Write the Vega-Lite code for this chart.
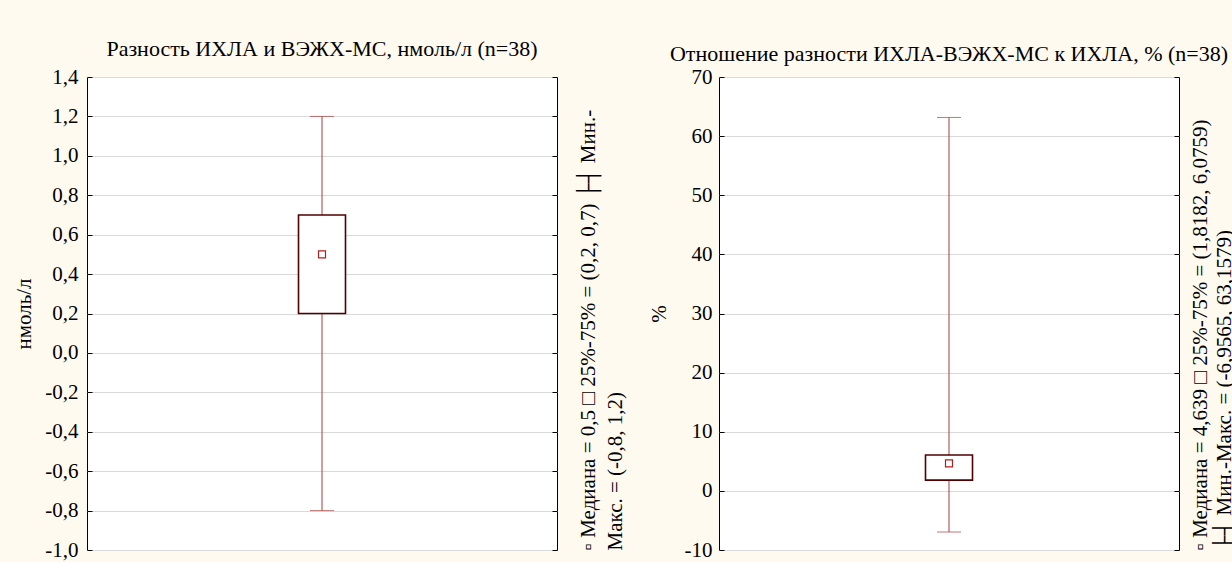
{
  "$schema": "https://vega.github.io/schema/vega-lite/v6.json",
  "background": "#fffaf0",
  "padding": {"left": 13, "top": 37, "right": 3, "bottom": 5},
  "config": {
    "locale": {"number": {"decimal": ",", "thousands": " ", "grouping": [3], "currency": ["", ""], "minus": "-"}},
    "font": "Liberation Serif",
    "view": {"fill": "white", "stroke": "black", "strokeWidth": 1},
    "axis": {
      "labelFont": "Liberation Serif", "labelFontSize": 21, "labelColor": "black",
      "titleFont": "Liberation Serif", "titleFontSize": 21, "titleFontWeight": "normal", "titleColor": "black",
      "gridColor": "#d9d9d9", "domain": false, "tickColor": "black"
    },
    "title": {"font": "Liberation Serif", "fontSize": 22, "fontWeight": "normal", "color": "black"},
    "concat": {"spacing": 21}
  },
  "datasets": {
    "d1": [{"g": "a", "min": -0.8, "q1": 0.2, "med": 0.5, "q3": 0.7, "max": 1.2}],
    "d2": [{"g": "a", "min": -6.9565, "q1": 1.8182, "med": 4.639, "q3": 6.0759, "max": 63.1579}]
  },
  "hconcat": [
    {
      "title": {"text": "Разность ИХЛА и ВЭЖХ-МС, нмоль/л (n=38)", "offset": 5},
      "width": 470,
      "height": 473,
      "data": {"name": "d1"},
      "encoding": {"x": {"field": "g", "type": "nominal", "axis": null, "scale": {"paddingInner": 0, "paddingOuter": 0}}},
      "layer": [
        {
          "mark": {"type": "rule", "color": "#a83c3c", "strokeWidth": 1},
          "encoding": {
            "y": {"field": "min", "type": "quantitative", "scale": {"domain": [-1, 1.4], "nice": false, "zero": false},
              "axis": {"orient": "left", "title": "нмоль/л", "values": [-1, -0.8, -0.6, -0.4, -0.2, 0, 0.2, 0.4, 0.6, 0.8, 1, 1.2, 1.4], "format": ".1f", "grid": true, "tickSize": -5, "labelPadding": 14, "titlePadding": 10}},
            "y2": {"field": "max"}
          }
        },
        {
          "mark": {"type": "tick", "color": "#a83c3c", "size": 24, "thickness": 1},
          "encoding": {
            "y": {"field": "min", "type": "quantitative",
              "axis": {"orient": "right", "title": ["▫ Медиана = 0,5 □ 25%-75% = (0,2, 0,7) ├┤ Мин.-", "Макс. = (-0,8, 1,2)"], "labels": false, "grid": false, "values": [-1, -0.8, -0.6, -0.4, -0.2, 0, 0.2, 0.4, 0.6, 0.8, 1, 1.2, 1.4], "tickSize": -5, "titleAngle": 270, "titleAnchor": "start", "titleAlign": "left", "titleFontSize": 21, "titlePadding": 14, "titleLineHeight": 27, "titleLimit": 472}}
          }
        },
        {
          "mark": {"type": "tick", "color": "#a83c3c", "size": 24, "thickness": 1},
          "encoding": {"y": {"field": "max", "type": "quantitative", "axis": null}}
        },
        {
          "mark": {"type": "bar", "fill": "white", "stroke": "#500000", "strokeWidth": 1.6, "size": 47},
          "encoding": {"y": {"field": "q1", "type": "quantitative", "axis": null}, "y2": {"field": "q3"}}
        },
        {
          "mark": {"type": "point", "shape": "square", "filled": false, "color": "#b02020", "size": 49, "strokeWidth": 1.2, "opacity": 1},
          "encoding": {"y": {"field": "med", "type": "quantitative", "axis": null}}
        }
      ],
      "resolve": {"axis": {"y": "independent"}}
    },
    {
      "title": {"text": "Отношение разности ИХЛА-ВЭЖХ-МС к ИХЛА, % (n=38)", "offset": 0},
      "width": 460,
      "height": 473,
      "data": {"name": "d2"},
      "encoding": {"x": {"field": "g", "type": "nominal", "axis": null, "scale": {"paddingInner": 0, "paddingOuter": 0}}},
      "layer": [
        {
          "mark": {"type": "rule", "color": "#a83c3c", "strokeWidth": 1},
          "encoding": {
            "y": {"field": "min", "type": "quantitative", "scale": {"domain": [-10, 70], "nice": false, "zero": false},
              "axis": {"orient": "left", "title": "%", "values": [-10, 0, 10, 20, 30, 40, 50, 60, 70], "format": "d", "grid": true, "tickSize": -5, "labelPadding": 12, "titlePadding": 15}},
            "y2": {"field": "max"}
          }
        },
        {
          "mark": {"type": "tick", "color": "#a83c3c", "size": 24, "thickness": 1},
          "encoding": {
            "y": {"field": "min", "type": "quantitative",
              "axis": {"orient": "right", "title": ["▫ Медиана = 4,639 □ 25%-75% = (1,8182, 6,0759)", "├┤ Мин.-Макс. = (-6,9565, 63,1579)"], "labels": false, "grid": false, "values": [-10, 0, 10, 20, 30, 40, 50, 60, 70], "tickSize": -5, "titleAngle": 270, "titleAnchor": "start", "titleAlign": "left", "titleFontSize": 21, "titlePadding": 7, "titleLineHeight": 24, "titleLimit": 472}}
          }
        },
        {
          "mark": {"type": "tick", "color": "#a83c3c", "size": 24, "thickness": 1},
          "encoding": {"y": {"field": "max", "type": "quantitative", "axis": null}}
        },
        {
          "mark": {"type": "bar", "fill": "white", "stroke": "#500000", "strokeWidth": 1.6, "size": 47},
          "encoding": {"y": {"field": "q1", "type": "quantitative", "axis": null}, "y2": {"field": "q3"}}
        },
        {
          "mark": {"type": "point", "shape": "square", "filled": false, "color": "#b02020", "size": 49, "strokeWidth": 1.2, "opacity": 1},
          "encoding": {"y": {"field": "med", "type": "quantitative", "axis": null}}
        }
      ],
      "resolve": {"axis": {"y": "independent"}}
    }
  ]
}
